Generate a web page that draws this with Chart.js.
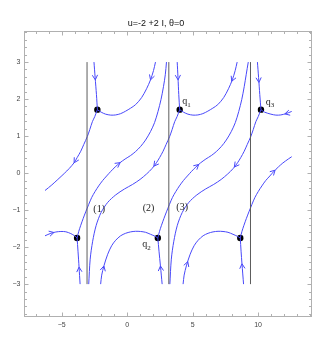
<!DOCTYPE html>
<html><head><meta charset="utf-8">
<script src="https://cdn.jsdelivr.net/npm/chart.js@4"></script>
<style>html,body{margin:0;padding:0;background:#fff}#wrap{width:336px;height:347px;position:relative}</style>
</head><body><div id="wrap"><canvas id="c"></canvas></div>
<script>
// ---------- data ----------
const titleText = 'u=-2 +2 I, \u03B8=0';
const xTickValues = [-5, 0, 5, 10];
const yTickValues = [-3, -2, -1, 0, 1, 2, 3];
const separatorX = [-3.07, 3.18, 9.42];
const separatorY = [-3, 3];

// saddle points (upper row P1..P3, lower row Q1..Q3)
const saddleX = [-2.28, 4.01, 10.22, -3.83, 2.34, 8.64];
const saddleY = [1.715, 1.715, 1.715, -1.752, -1.752, -1.752];

// stream lines, points listed in flow direction
const curveA1 = [[-2.54,3.0],[-2.45,2.58],[-2.35,2.12],[-2.28,1.715]];
const curveA2 = [[3.82,3.0],[3.88,2.58],[3.94,2.12],[4.01,1.715]];
const curveA3 = [[9.95,3.0],[10.04,2.58],[10.13,2.12],[10.22,1.715]];

const curveB1 = [[2.16,3.0],[2.01,2.77],[1.78,2.52],[1.48,2.28],[1.10,2.04],[0.64,1.85],[0.26,1.755],[-0.12,1.674],[-0.50,1.607],[-0.88,1.572],[-1.26,1.567],[-1.65,1.593],[-1.99,1.647],[-2.28,1.715]];
const curveB2 = [[8.40,3.0],[8.25,2.77],[8.03,2.52],[7.74,2.28],[7.37,2.04],[6.92,1.85],[6.54,1.755],[6.16,1.674],[5.78,1.607],[5.40,1.572],[5.02,1.567],[4.64,1.593],[4.30,1.647],[4.01,1.715]];
const curveB3 = [[12.57,1.666],[12.12,1.607],[11.74,1.572],[11.36,1.567],[10.98,1.593],[10.50,1.647],[10.22,1.715]];

const curveC1 = [[-2.28,1.715],[-2.48,1.526],[-2.66,1.391],[-2.86,1.176],[-3.05,0.987],[-3.32,0.772],[-3.55,0.591],[-3.82,0.422],[-4.06,0.279],[-4.43,0.125],[-4.81,-0.009],[-5.30,-0.171],[-5.76,-0.319],[-6.28,-0.47]];
const curveC2 = [[4.01,1.715],[3.81,1.526],[3.63,1.391],[3.43,1.176],[3.24,0.987],[2.97,0.772],[2.74,0.591],[2.48,0.422],[2.23,0.279],[1.90,0.125],[1.48,-0.023],[0.98,-0.171],[0.41,-0.306],[-0.20,-0.427],[-0.88,-0.589],[-1.49,-0.791],[-1.99,-1.060],[-2.37,-1.410],[-2.64,-1.841],[-2.83,-2.326],[-2.94,-3.0]];
const curveC3 = [[10.22,1.715],[10.01,1.526],[9.83,1.391],[9.63,1.176],[9.44,0.987],[9.17,0.772],[8.94,0.591],[8.68,0.422],[8.43,0.279],[8.10,0.125],[7.68,-0.023],[7.18,-0.171],[6.61,-0.306],[6.00,-0.427],[5.32,-0.589],[4.71,-0.791],[4.21,-1.060],[3.83,-1.410],[3.56,-1.841],[3.37,-2.326],[3.26,-3.0]];

const curveD1 = [[-3.83,-1.752],[-3.70,-1.572],[-3.55,-1.410],[-3.36,-1.222],[-3.17,-1.047],[-2.94,-0.845],[-2.71,-0.656],[-2.45,-0.494],[-2.18,-0.346],[-1.87,-0.198],[-1.57,-0.077],[-1.26,0.044],[-0.92,0.166],[-0.58,0.273],[-0.16,0.381],[0.26,0.475],[0.64,0.583],[1.02,0.718],[1.40,0.893],[1.78,1.122],[2.09,1.364],[2.35,1.661],[2.58,1.984],[2.77,2.334],[2.91,2.658],[3.00,3.0]];
const curveD2 = [[2.34,-1.752],[2.47,-1.572],[2.62,-1.410],[2.81,-1.222],[3.00,-1.047],[3.23,-0.845],[3.46,-0.656],[3.72,-0.494],[3.99,-0.346],[4.30,-0.198],[4.60,-0.077],[4.91,0.044],[5.25,0.166],[5.59,0.273],[6.01,0.381],[6.43,0.475],[6.81,0.583],[7.19,0.718],[7.57,0.893],[7.95,1.122],[8.26,1.364],[8.52,1.661],[8.75,1.984],[8.94,2.334],[9.09,2.658],[9.25,3.0]];
const curveD3 = [[8.64,-1.752],[8.77,-1.572],[8.92,-1.410],[9.11,-1.222],[9.30,-1.047],[9.53,-0.845],[9.76,-0.656],[10.02,-0.494],[10.29,-0.346],[10.59,-0.198],[10.90,-0.077],[11.20,0.044],[11.55,0.166],[11.89,0.273],[12.31,0.381],[12.57,0.443]];

const curveE1 = [[-6.28,-1.694],[-5.83,-1.626],[-5.45,-1.591],[-5.07,-1.577],[-4.69,-1.585],[-4.31,-1.634],[-4.01,-1.696],[-3.83,-1.752]];
const curveE2 = [[-2.03,-3.0],[-1.95,-2.757],[-1.78,-2.507],[-1.49,-2.192],[-1.19,-1.963],[-0.88,-1.814],[-0.50,-1.693],[-0.12,-1.626],[0.26,-1.588],[0.64,-1.572],[1.02,-1.577],[1.40,-1.599],[1.78,-1.653],[2.13,-1.707],[2.34,-1.752]];
const curveE3 = [[4.27,-3.0],[4.35,-2.757],[4.52,-2.507],[4.81,-2.192],[5.11,-1.963],[5.42,-1.814],[5.80,-1.693],[6.18,-1.626],[6.56,-1.588],[6.94,-1.572],[7.32,-1.577],[7.70,-1.599],[8.08,-1.653],[8.42,-1.707],[8.64,-1.752]];

const curveF1 = [[-3.60,-3.0],[-3.68,-2.54],[-3.76,-2.11],[-3.83,-1.752]];
const curveF2 = [[2.67,-3.0],[2.54,-2.51],[2.43,-2.11],[2.34,-1.752]];
const curveF3 = [[8.89,-3.0],[8.77,-2.45],[8.70,-2.11],[8.64,-1.752]];

// arrowheads: [curve name, approx x, approx y]
const arrowCurve = ['A1','A2','A3','B1','B2','B3','C1','C2','C3','D1','D2','D3','E1','E2','E3','F1','F2','F3'];
const arrowX = [-2.42, 3.89, 10.05, 1.78, 8.0, 12.06, -4.06, 1.95, 8.13, -0.58, 5.46, 11.35, -5.6, -1.78, 4.70, -3.70, 2.54, 8.77];
const arrowY = [2.52, 2.52, 2.45, 2.52, 2.48, 1.58, 0.28, 0.21, 0.18, 0.30, 0.233, 0.06, -1.60, -2.51, -2.40, -2.54, -2.51, -2.45];

// text annotations
const noteText = ['q', 'q', 'q', '(1)', '(2)', '(3)'];
const noteSub = ['1', '2', '3', '', '', ''];
const noteX = [4.20, 1.15, 10.58, -2.14, 1.63, 4.20];
const noteY = [1.863, -2.0, 1.85, -0.98, -0.95, -0.93];

// ---------- chart ----------
const curves = {A1:curveA1,A2:curveA2,A3:curveA3,B1:curveB1,B2:curveB2,B3:curveB3,
  C1:curveC1,C2:curveC2,C3:curveC3,D1:curveD1,D2:curveD2,D3:curveD3,
  E1:curveE1,E2:curveE2,E3:curveE3,F1:curveF1,F2:curveF2,F3:curveF3};
const BLUE = 'rgb(72,72,250)';
const datasets = [];
separatorX.forEach((sx, i) => datasets.push({
  label: 'sep' + i, data: separatorY.map(v => ({x: sx, y: v})),
  showLine: true, borderColor: '#5c5c5c', borderWidth: 1, pointRadius: 0, tension: 0
}));
Object.keys(curves).forEach(k => datasets.push({
  label: k, data: curves[k].map(p => ({x: p[0], y: p[1]})),
  showLine: true, borderColor: BLUE, borderWidth: 1, pointRadius: 0, tension: 0.3
}));
datasets.push({
  label: 'saddles', data: saddleX.map((v, i) => ({x: v, y: saddleY[i]})),
  showLine: false, pointRadius: 3.2, pointBackgroundColor: '#000', pointBorderColor: '#000', borderWidth: 0
});

const fmt = v => (v < 0 ? '\u2212' + Math.abs(v) : String(v));

const frameTicks = {
  id: 'frameTicks',
  beforeDatasetsDraw(chart) {
    const {ctx, chartArea: a, scales: {x, y}} = chart;
    ctx.save();
    ctx.strokeStyle = '#b0b0b0'; ctx.lineWidth = 1;
    const L = Math.round(a.left) - 0.5, R = Math.round(a.right) - 0.5;
    const T = Math.round(a.top) + 0.5, B = Math.round(a.bottom) - 0.5;
    ctx.strokeRect(L, T, R - L, B - T);
    ctx.beginPath();
    for (let v = Math.ceil(x.min); v <= Math.floor(x.max); v++) {
      const px = Math.round(x.getPixelForValue(v)) + 0.5;
      const len = v % 5 === 0 ? 4 : 2.5;
      ctx.moveTo(px, B); ctx.lineTo(px, B - len);
      ctx.moveTo(px, T); ctx.lineTo(px, T + len);
    }
    for (let k = Math.ceil(y.min * 5); k <= Math.floor(y.max * 5); k++) {
      const py = Math.round(y.getPixelForValue(k / 5)) + 0.5;
      const len = k % 5 === 0 ? 4 : 2.5;
      ctx.moveTo(L, py); ctx.lineTo(L + len, py);
      ctx.moveTo(R, py); ctx.lineTo(R - len, py);
    }
    ctx.stroke();
    ctx.restore();
  }
};

const arrows = {
  id: 'arrows',
  afterDatasetsDraw(chart) {
    const {ctx, scales: {x, y}} = chart;
    ctx.save();
    ctx.strokeStyle = BLUE; ctx.lineWidth = 1;
    arrowCurve.forEach((name, i) => {
      const pts = curves[name];
      const px = x.getPixelForValue(arrowX[i]), py = y.getPixelForValue(arrowY[i]);
      let best = null, bd = Infinity;
      for (let j = 0; j < pts.length - 1; j++) {
        const x1 = x.getPixelForValue(pts[j][0]), y1 = y.getPixelForValue(pts[j][1]);
        const x2 = x.getPixelForValue(pts[j+1][0]), y2 = y.getPixelForValue(pts[j+1][1]);
        const dx = x2 - x1, dy = y2 - y1, l2 = dx*dx + dy*dy || 1;
        let t = ((px - x1)*dx + (py - y1)*dy) / l2;
        t = Math.max(0, Math.min(1, t));
        const qx = x1 + t*dx, qy = y1 + t*dy;
        const d = (qx - px)**2 + (qy - py)**2;
        if (d < bd) { bd = d; best = {qx, qy, ang: Math.atan2(dy, dx)}; }
      }
      const len = 5.5, half = 0.5;
      const {qx, qy, ang} = best;
      ctx.beginPath();
      ctx.moveTo(qx - len*Math.cos(ang - half), qy - len*Math.sin(ang - half));
      ctx.lineTo(qx, qy);
      ctx.lineTo(qx - len*Math.cos(ang + half), qy - len*Math.sin(ang + half));
      ctx.stroke();
    });
    ctx.restore();
  }
};

const notes = {
  id: 'notes',
  afterDatasetsDraw(chart) {
    const {ctx, scales: {x, y}} = chart;
    ctx.save();
    ctx.fillStyle = '#222';
    noteText.forEach((t, i) => {
      const px = x.getPixelForValue(noteX[i]), py = y.getPixelForValue(noteY[i]);
      if (noteSub[i]) {
        ctx.font = '10px "Liberation Serif", serif';
        ctx.textAlign = 'left'; ctx.textBaseline = 'alphabetic';
        ctx.fillText(t, px, py);
        const w = ctx.measureText(t).width;
        ctx.font = '7px "Liberation Serif", serif';
        ctx.fillText(noteSub[i], px + w, py + 2.5);
      } else {
        ctx.font = '10px "Liberation Serif", serif';
        ctx.textAlign = 'center'; ctx.textBaseline = 'middle';
        ctx.fillText(t, px, py);
      }
    });
    ctx.restore();
  }
};

new Chart(document.getElementById('c'), {
  type: 'scatter',
  data: {datasets},
  plugins: [frameTicks, arrows, notes],
  options: {
    responsive: true, maintainAspectRatio: false, animation: false,
    devicePixelRatio: 1,
    layout: {padding: {left: 0, right: 24, top: 0, bottom: 0}},
    plugins: {
      legend: {display: false}, tooltip: {enabled: false},
      title: {display: true, text: titleText, color: '#111',
        font: {family: '"Liberation Sans", Arial, sans-serif', size: 9, weight: 'normal'},
        padding: {top: 18.6, bottom: 1.6}}
    },
    scales: {
      x: {type: 'linear', min: -7.81, max: 14.12,
        grid: {display: false, drawTicks: false, tickLength: 0}, border: {display: false},
        afterBuildTicks: s => { s.ticks = xTickValues.map(v => ({value: v})); },
        afterFit: s => { s.height = 30.3; },
        ticks: {autoSkip: false, maxRotation: 0, padding: 4, color: '#444',
          font: {family: '"Liberation Sans", Arial, sans-serif', size: 7},
          callback: v => fmt(v)}},
      y: {type: 'linear', min: -3.88, max: 3.84,
        grid: {display: false, drawTicks: false, tickLength: 0}, border: {display: false},
        afterBuildTicks: s => { s.ticks = yTickValues.map(v => ({value: v})); },
        afterFit: s => { s.width = 25; },
        ticks: {autoSkip: false, padding: 4.5, color: '#444',
          font: {family: '"Liberation Sans", Arial, sans-serif', size: 7},
          callback: v => fmt(v)}}
    }
  }
});
</script>
</body></html>
